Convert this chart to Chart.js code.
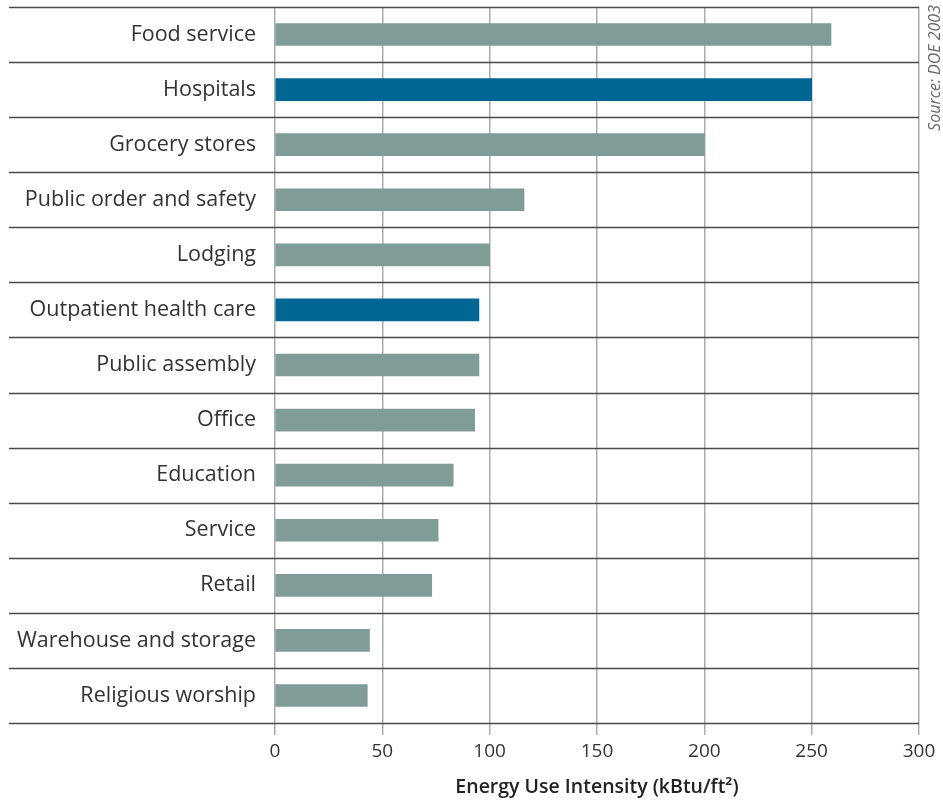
<!DOCTYPE html>
<html>
<head>
<meta charset="utf-8">
<script src="https://cdn.jsdelivr.net/npm/chart.js@4"></script>
<style>
  html, body { margin: 0; padding: 0; background: #fff; }
  #wrap { width: 943px; height: 803px; }
</style>
</head>
<body>
<div id="wrap"><canvas id="eui-chart" width="943" height="803"></canvas></div>
<script>
const categories = [
    'Food service', 'Hospitals', 'Grocery stores', 'Public order and safety',
    'Lodging', 'Outpatient health care', 'Public assembly', 'Office',
    'Education', 'Service', 'Retail', 'Warehouse and storage', 'Religious worship'
];
const euiValues = [259, 250, 200, 116, 100, 95, 95, 93, 83, 76, 73, 44, 43];
const healthCare = ['Hospitals', 'Outpatient health care'];
const xTicks = [0, 50, 100, 150, 200, 250, 300];

const GREY = '#7f9c96';
const BLUE = '#006794';
const FONT = "'Open Sans', 'Noto Sans', sans-serif";

// Row separators run across the labels too, so draw them from the y scale
const rowLines = {
    id: 'rowLines',
    afterDatasetsDraw(chart) {
        const ctx = chart.ctx;
        const y = chart.scales.y;
        const area = chart.chartArea;
        ctx.save();
        ctx.strokeStyle = '#4a4a4a';
        ctx.lineWidth = 1.5;
        for (let i = 0; i <= categories.length; i++) {
            const py = Math.round(y.getPixelForValue(i - 0.5)) + 0.5;
            ctx.beginPath();
            ctx.moveTo(9, py);
            ctx.lineTo(area.right, py);
            ctx.stroke();
        }
        ctx.restore();
    }
};

const sourceNote = {
    id: 'sourceNote',
    afterDraw(chart) {
        const ctx = chart.ctx;
        ctx.save();
        ctx.translate(935, 5);
        ctx.rotate(-Math.PI / 2);
        ctx.font = "italic 16px " + FONT;
        ctx.fillStyle = '#666';
        ctx.textAlign = 'right';
        ctx.textBaseline = 'middle';
        ctx.fillText('Source: DOE 2003', 0, 0);
        ctx.restore();
    }
};

const ctx = document.getElementById('eui-chart').getContext('2d');
const chartInstance = new Chart(ctx, {
    type: 'bar',
    data: {
        labels: categories,
        datasets: [{
            data: euiValues,
            backgroundColor: categories.map(c => healthCare.includes(c) ? BLUE : GREY),
            barThickness: 22,
            borderWidth: 0
        }]
    },
    options: {
        indexAxis: 'y',
        responsive: false,
        animation: false,
        layout: { padding: { top: 7, right: 24, bottom: 4, left: 0 } },
        plugins: {
            legend: { display: false },
            tooltip: { enabled: false }
        },
        scales: {
            x: {
                min: 0,
                max: 300,
                afterBuildTicks(scale) {
                    scale.ticks = xTicks.map(v => ({ value: v }));
                },
                afterFit(scale) { scale.height = 76; },
                grid: {
                    color: '#a6adb3',
                    lineWidth: 1.5,
                    tickLength: 12,
                    tickColor: '#a6adb3'
                },
                border: { display: false },
                ticks: {
                    padding: 5,
                    color: '#333',
                    font: { family: FONT, size: 19 }
                },
                title: {
                    display: true,
                    text: 'Energy Use Intensity (kBtu/ft²)',
                    color: '#222',
                    font: { family: FONT, size: 19.5, weight: '600' },
                    padding: 0
                }
            },
            y: {
                afterFit(scale) {
                    scale.width = 275;
                    scale.paddingTop = 0;
                    scale.paddingBottom = 0;
                },
                grid: { display: false, drawTicks: false },
                border: { display: false },
                ticks: {
                    padding: 19,
                    color: '#333',
                    font: { family: FONT, size: 21.5 }
                }
            }
        }
    },
    plugins: [rowLines, sourceNote]
});
</script>
</body>
</html>
